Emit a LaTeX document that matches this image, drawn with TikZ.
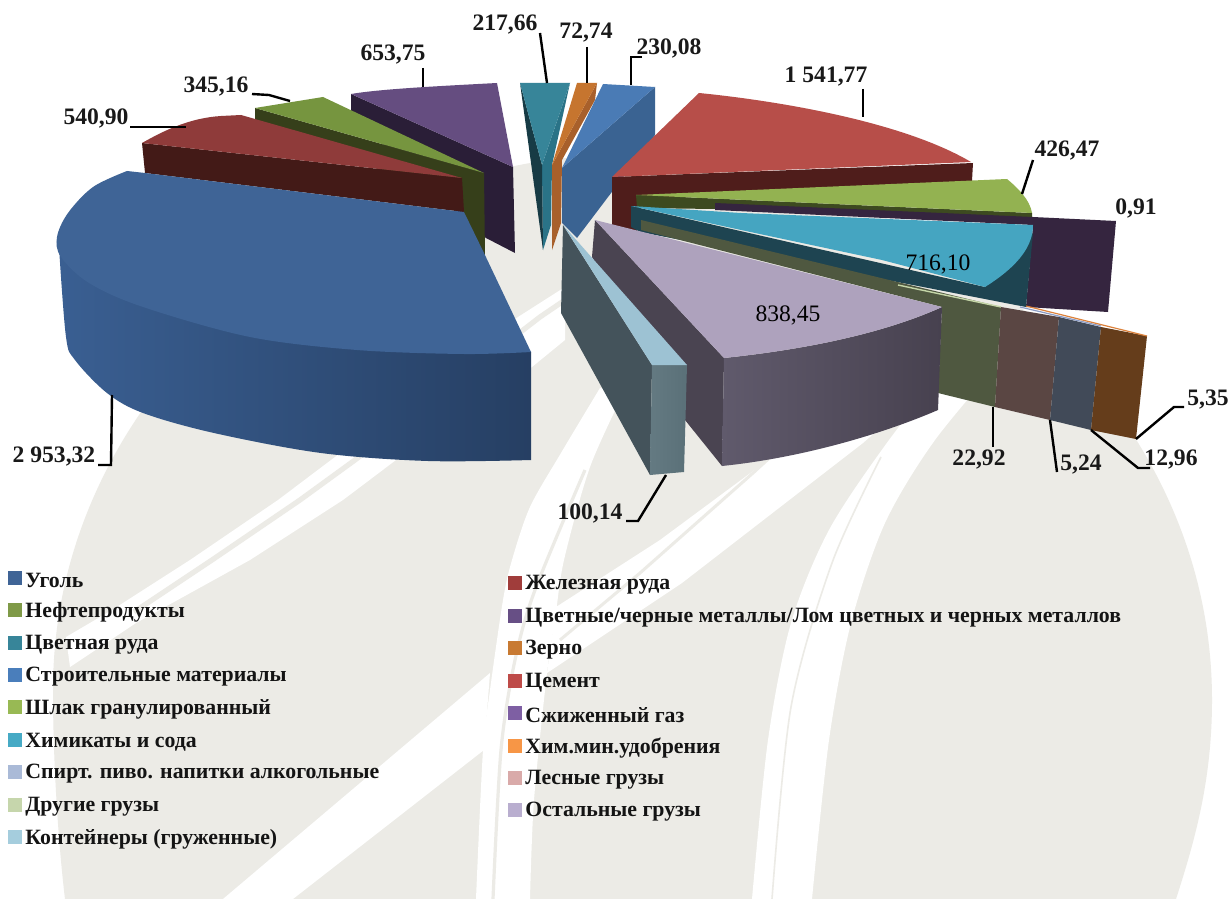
\documentclass[tikz,border=0pt]{standalone}
\usepackage{fontspec}
\setmainfont{Liberation Serif}
\definecolor{bggrey}{HTML}{ECEBE6}
\definecolor{pSide}{HTML}{2A1E37}\definecolor{pTop}{HTML}{654D80}
\definecolor{gSide}{HTML}{363F1A}\definecolor{gTop}{HTML}{76953F}
\definecolor{iSide}{HTML}{431A17}\definecolor{iTop}{HTML}{8F3B3A}
\definecolor{coalL}{HTML}{3A5F92}\definecolor{coalR}{HTML}{263F63}\definecolor{coalT}{HTML}{3F6496}
\definecolor{tM}{HTML}{2A7387}\definecolor{tD}{HTML}{173B45}\definecolor{tT}{HTML}{378599}
\definecolor{oS}{HTML}{A8602B}\definecolor{oT}{HTML}{C6752F}
\definecolor{bS}{HTML}{3A6392}\definecolor{bT}{HTML}{4A7BB5}
\definecolor{cS}{HTML}{4F1D1B}\definecolor{cT}{HTML}{B74E49}
\definecolor{sS}{HTML}{3D4A20}\definecolor{sT}{HTML}{93B251}
\definecolor{gasS}{HTML}{35253F}
\definecolor{chS}{HTML}{1E4451}\definecolor{chT}{HTML}{45A5C1}
\definecolor{olv}{HTML}{4F5840}\definecolor{fors}{HTML}{5A4643}\definecolor{slat}{HTML}{414A58}\definecolor{brn}{HTML}{653D1B}
\definecolor{lnA}{HTML}{C5D6A8}\definecolor{lnB}{HTML}{8A9BC4}\definecolor{lnC}{HTML}{DC823C}
\definecolor{liS}{HTML}{4A4451}\definecolor{liL}{HTML}{605A6C}\definecolor{liR}{HTML}{47414F}\definecolor{liT}{HTML}{AEA2BD}
\definecolor{coS}{HTML}{44535B}\definecolor{coL}{HTML}{647A82}\definecolor{coR}{HTML}{5A7078}\definecolor{coT}{HTML}{9DC2D3}
\definecolor{l1}{HTML}{3F6496}\definecolor{l2}{HTML}{7F9A48}\definecolor{l3}{HTML}{378599}\definecolor{l4}{HTML}{4A7EBB}
\definecolor{l5}{HTML}{98B954}\definecolor{l6}{HTML}{46AAC5}\definecolor{l7}{HTML}{AABAD7}\definecolor{l8}{HTML}{C6D6AC}\definecolor{l9}{HTML}{A5CDDD}
\definecolor{m1}{HTML}{A03D3B}\definecolor{m2}{HTML}{674F85}\definecolor{m3}{HTML}{C87A32}\definecolor{m4}{HTML}{BE4B48}
\definecolor{m5}{HTML}{7E5FA3}\definecolor{m6}{HTML}{F79646}\definecolor{m7}{HTML}{D9AAA9}\definecolor{m8}{HTML}{B9AECF}
\tikzset{
  val/.style={font=\fontsize{11.8}{13}\selectfont\bfseries,inner sep=0pt,text=black!90},
  valin/.style={font=\fontsize{11.8}{13}\selectfont,inner sep=0pt,text=black},
  leader/.style={draw=black,line width=1.2pt,line join=miter},
  swatch/.style={inner sep=0pt,minimum width=6.6pt,minimum height=7pt,draw=none},
  legtext/.style={anchor=west,inner sep=0pt,yshift=-1pt,font=\fontsize{10.9}{12}\selectfont\bfseries,text=black!92}
}
\begin{document}
\begin{tikzpicture}[x=0.5pt,y=-0.5pt]
\useasboundingbox (0,0) rectangle (1232,899);
\fill[white] (0,0) rectangle (1232,899);
% ---- watermark
\fill[bggrey] (620,155) .. controls (350,155) and (53,380) .. (53,690)
  .. controls (53,760) and (58,840) .. (65,899) -- (1176,899)
  .. controls (1195,840) and (1212,780) .. (1212,700)
  .. controls (1212,380) and (900,155) .. (620,155) -- cycle;
% band W1
\fill[white] (66,637) -- (112,610) -- (190,560) -- (278,500) -- (335,457) -- (518,317) -- (565,287)
  -- (565,340) -- (532,367) -- (396,460) -- (343,500) -- (250,560) -- (136,623) -- (70,667) -- cycle;
\draw[bggrey,line width=2.6pt] (134,612) -- (212,560) -- (300,500) -- (355,460) -- (540,317) -- (565,300);
% band W2
\fill[white] (223,899) -- (490,673) -- (484,750) -- (293,899) -- cycle;
% band W3
\fill[white] plot[smooth,tension=.5] coordinates {(600,388) (561,453) (530,507) (512,560) (503,600) (490,690) (483,750) (476,899)}
  -- plot[smooth,tension=.5] coordinates {(530,899) (534,800) (547,673) (555,620) (564,560) (590,467) (625,390)} -- cycle;
\draw[bggrey,line width=1.6pt] plot[smooth,tension=.5] coordinates {(493,899) (501,750) (515,660) (535,590) (585,470)};
% band W4
\fill[white] (556,607) -- (660,540) -- (768,460) -- (860,380) -- (930,385) -- (863,443) -- (682,583) -- (547,673) -- cycle;
\draw[bggrey,line width=1.5pt] (560,640) -- (640,573) -- (753,473) -- (800,430);
% band W5
\fill[white] plot[smooth,tension=.5] coordinates {(752,899) (768,740) (791,623) (829,530) (889,440) (960,350)}
  -- plot[smooth,tension=.5] coordinates {(1010,350) (935,440) (885,523) (851,623) (829,740) (812,899)} -- cycle;
\draw[bggrey,line width=.8pt] plot[smooth,tension=.5] coordinates {(772,899) (791,707) (832,563) (881,457)};

% ---- back slices: purple, green, iron ore, coal
\fill[pSide] (351,94) -- (513,167) -- (515,253) -- (486,238) -- (351,115) -- cycle;
\fill[pTop] (351,94) .. controls (380,89) and (440,86) .. (497,83) -- (513,167) -- cycle;
\fill[gSide] (255,108) -- (484,173) -- (485,257) -- (455,200) -- (255,120) -- cycle;
\fill[gTop] (255,108) -- (323,97) -- (484,173) -- cycle;
\fill[iSide] (142,143) -- (462,178) -- (464,212) -- (145,173) -- cycle;
\fill[iTop] (142,143) .. controls (165,130) and (190,118) .. (221,116) -- (241,115) -- (462,178) -- cycle;
% coal side
\shade[left color=coalL,right color=coalR]
  (58,240) -- (300,260) -- (500,335) -- (531,352) -- (531,460)
  -- plot[smooth,tension=.55] coordinates {(531,460) (428,461) (321,453) (214,433) (143,413) (107,393) (75,360) (66,337) (59,247)} -- cycle;
\fill[coalT] (127,171) -- (145,173) -- (464,212) -- (484,253) -- (531,352)
  -- plot[smooth,tension=.55] coordinates {(531,352) (464,354) (357,350) (250,337) (143,307) (89,283) (61,257) (57,237) (68,213) (93,187) (127,171)} -- cycle;

% ---- teal, orange, blue
\fill[tM] (570,83) -- (542,165) -- (543,250) -- (551,225) -- (552,165) -- cycle;
\fill[tD] (520,83) -- (542,165) -- (543,250) -- cycle;
\fill[tT] (520,83) -- (570,83) -- (542,165) -- cycle;
\fill[oS] (597,83) -- (595,100) -- (562,160) -- (561,223) -- (552,250) -- (552,165) -- cycle;
\fill[oT] (577,83) -- (597,83) -- (552,165) -- cycle;
\fill[bS] (655,87) -- (655,135) -- (577,238) -- (562,223) -- (562,168) -- cycle;
\fill[bT] (603,84) -- (655,87) -- (562,168) -- cycle;

% ---- cement
\fill[cS] (612,177) -- (973,163) -- (972,181) -- (640,200) -- (637,232) -- (612,225) -- cycle;
\fill[cT] (612,177) -- (699,93) .. controls (770,100) and (900,120) .. (971,162) -- cycle;
% ---- slag
\fill[sS] (636,195) -- (1032,213) -- (1032,218) -- (715,209) -- (637,208) -- cycle;
\fill[sT] (636,195) -- (1007,179) .. controls (1018,188) and (1030,200) .. (1032,213) -- cycle;
% ---- liquefied gas
\fill[gasS] (715,203) -- (1033,217) -- (1116,221) -- (1108,312) -- (1026,307) -- (1033,225) -- (715,210) -- cycle;
% ---- chemicals
\fill[chS] (631,206) -- (985,287) -- (1033,233) -- (1026,307) -- (640,232) -- (631,227) -- cycle;
\fill[chT] (631,206) -- (741,213) -- (1033,225) .. controls (1033,245) and (1020,265) .. (985,287)
  -- (882,260) -- (741,230) -- cycle;

% ---- thin stack
\fill[olv] (641,220) -- (1001,307) -- (995,407) -- (938,393) -- (942,307) -- (641,230) -- cycle;
\fill[fors] (1001,307) -- (1059,317) -- (1050,420) -- (995,407) -- cycle;
\fill[slat] (1059,317) -- (1101,327) -- (1091,430) -- (1050,420) -- cycle;
\fill[brn] (1101,327) -- (1147,336) -- (1136,439) -- (1091,430) -- cycle;
\draw[lnA,line width=.7pt] (898,285) -- (1001,307);
\draw[lnB,line width=.6pt] (1020,307) -- (1101,326);
\draw[lnC,line width=.6pt] (1026,306) -- (1147,336);

% ---- other cargo (lilac)
\fill[liS] (595,220) -- (724,358) -- (722,466) -- (685,420) -- (592,257) -- cycle;
\shade[left color=liL,right color=liR]
  (724,358) .. controls (800,350) and (880,335) .. (942,307) -- (938,410)
  .. controls (880,435) and (800,458) .. (722,466) -- cycle;
\fill[liT] (595,220) -- (942,307) .. controls (880,335) and (800,350) .. (724,358) -- cycle;

% ---- containers
\fill[coS] (563,225) -- (652,365) -- (650,475) -- (561,313) -- cycle;
\shade[left color=coL,right color=coR]
  (652,365) -- (687,365) -- (684,472) -- (650,475) -- cycle;
\fill[coT] (563,225) -- (687,365) -- (652,365) -- cycle;

% ---- value labels and leaders
\node[val] (a) at (54,457) {2 953,32};
\coordinate (a1) at (98,465); \coordinate (a2) at (111,465); \coordinate (a3) at (112,395);
\draw[leader] (a1) -- (a2) -- (a3);
\node[val] (b) at (96,118) {540,90};
\coordinate (b1) at (130,127); \coordinate (b2) at (186,127);
\draw[leader] (b1) -- (b2);
\node[val] (c) at (216,87) {345,16};
\coordinate (c1) at (252,94); \coordinate (c2) at (269,95); \coordinate (c3) at (290,101);
\draw[leader] (c1) -- (c2) -- (c3);
\node[val] (d) at (393,55) {653,75};
\coordinate (d1) at (423,68); \coordinate (d2) at (423,87);
\draw[leader] (d1) -- (d2);
\node[val] (e) at (505,25) {217,66};
\coordinate (e1) at (540,33); \coordinate (e2) at (547,83);
\draw[leader] (e1) -- (e2);
\node[val] (f) at (586,33) {72,74};
\coordinate (f1) at (587,47); \coordinate (f2) at (587,83);
\draw[leader] (f1) -- (f2);
\node[val] (g) at (669,48) {230,08};
\coordinate (g1) at (642,57); \coordinate (g2) at (631,57); \coordinate (g3) at (631,85);
\draw[leader] (g1) -- (g2) -- (g3);
\node[val] (h) at (826,77) {1 541,77};
\coordinate (h1) at (863,89); \coordinate (h2) at (863,117);
\draw[leader] (h1) -- (h2);
\node[val] (i) at (1067,151) {426,47};
\coordinate (i1) at (1033,160); \coordinate (i2) at (1022,194);
\draw[leader] (i1) -- (i2);
\node[val] (j) at (1136,208) {0,91};
\node[valin] (k) at (938,264) {716,10};
\node[valin] (l) at (788,315) {838,45};
\node[val] (m) at (1208,400) {5,35};
\coordinate (m1) at (1184,407); \coordinate (m2) at (1174,407); \coordinate (m3) at (1136,439);
\draw[leader] (m1) -- (m2) -- (m3);
\node[val] (n) at (1171,460) {12,96};
\coordinate (n1) at (1150,468); \coordinate (n2) at (1138,468); \coordinate (n3) at (1091,430);
\draw[leader] (n1) -- (n2) -- (n3);
\node[val] (o) at (1081,465) {5,24};
\coordinate (o1) at (1057,472); \coordinate (o2) at (1050,420);
\draw[leader] (o1) -- (o2);
\node[val] (p) at (979,460) {22,92};
\coordinate (p1) at (993,447); \coordinate (p2) at (993,407);
\draw[leader] (p1) -- (p2);
\node[val] (q) at (590,513) {100,14};
\coordinate (q1) at (626,521); \coordinate (q2) at (638,521); \coordinate (q3) at (666,475);
\draw[leader] (q1) -- (q2) -- (q3);

% ---- legend, left column
\node[swatch,fill=l1] (s1) at (15,578) {};
\node[legtext] (t1) at (25,578) {Уголь};
\node[swatch,fill=l2] (s2) at (15,610) {};
\node[legtext] (t2) at (25,610) {Нефтепродукты};
\node[swatch,fill=l3] (s3) at (15,643) {};
\node[legtext] (t3) at (25,643) {Цветная руда};
\node[swatch,fill=l4] (s4) at (15,675) {};
\node[legtext] (t4) at (25,675) {Строительные материалы};
\node[swatch,fill=l5] (s5) at (15,707) {};
\node[legtext] (t5) at (25,707) {Шлак гранулированный};
\node[swatch,fill=l6] (s6) at (15,740) {};
\node[legtext] (t6) at (25,740) {Химикаты и сода};
\node[swatch,fill=l7] (s7) at (15,772) {};
\node[legtext] (t7) at (25,772) {Спирт. пиво. напитки алкогольные};
\node[swatch,fill=l8] (s8) at (15,805) {};
\node[legtext] (t8) at (25,805) {Другие грузы};
\node[swatch,fill=l9] (s9) at (15,837) {};
\node[legtext] (t9) at (25,837) {Контейнеры (груженные)};
% ---- legend, right column
\node[swatch,fill=m1] (r1) at (515,583) {};
\node[legtext] (u1) at (525,583) {Железная руда};
\node[swatch,fill=m2] (r2) at (515,616) {};
\node[legtext] (u2) at (525,616) {Цветные/черные металлы/Лом цветных и черных металлов};
\node[swatch,fill=m3] (r3) at (515,648) {};
\node[legtext] (u3) at (525,648) {Зерно};
\node[swatch,fill=m4] (r4) at (515,681) {};
\node[legtext] (u4) at (525,681) {Цемент};
\node[swatch,fill=m5] (r5) at (515,713) {};
\node[legtext] (u5) at (525,713) {Сжиженный газ};
\node[swatch,fill=m6] (r6) at (515,746) {};
\node[legtext] (u6) at (525,746) {Хим.мин.удобрения};
\node[swatch,fill=m7] (r7) at (515,778) {};
\node[legtext] (u7) at (525,778) {Лесные грузы};
\node[swatch,fill=m8] (r8) at (515,810) {};
\node[legtext] (u8) at (525,810) {Остальные грузы};
\end{tikzpicture}
\end{document}
